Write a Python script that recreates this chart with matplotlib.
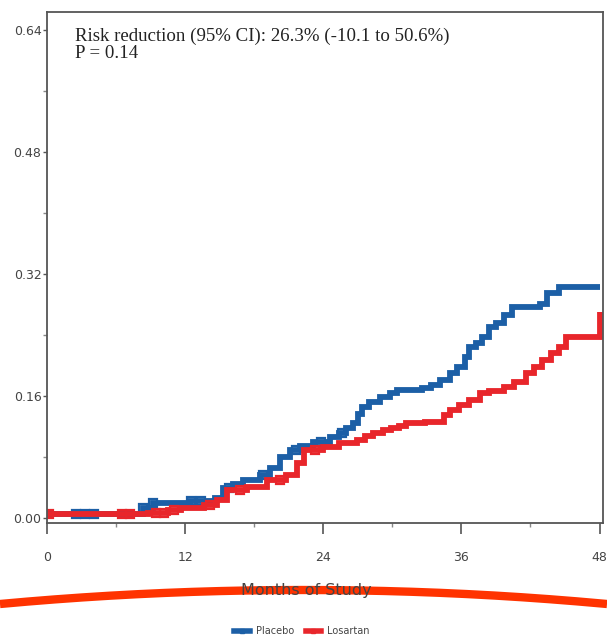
import numpy as np
import matplotlib
matplotlib.use("Agg")
import matplotlib.pyplot as plt
from matplotlib.lines import Line2D

# ---- data ----
placebo_months = [0, 8.3, 9.2, 12.4, 14.6, 15.3, 16.2, 17.0, 18.5, 19.4, 20.2, 21.1, 22.0, 23.1,
                  24.6, 25.4, 26.0, 26.6, 27.0, 27.4, 28.0, 28.9, 29.8, 30.4, 32.6, 33.4, 34.1,
                  35.0, 35.6, 36.3, 36.7, 37.3, 37.8, 38.4, 39.0, 39.7, 40.4, 42.8, 43.4, 44.5, 48]
placebo_risk = [0.005, 0.013, 0.019, 0.022, 0.026, 0.039, 0.045, 0.050, 0.056, 0.066, 0.080, 0.089, 0.094, 0.100,
                0.106, 0.111, 0.118, 0.125, 0.136, 0.146, 0.152, 0.159, 0.164, 0.168, 0.171, 0.175, 0.181,
                0.190, 0.198, 0.211, 0.224, 0.229, 0.237, 0.250, 0.256, 0.266, 0.277, 0.280, 0.295, 0.303, 0.303]
losartan_months = [0, 8.8, 10.5, 11.6, 13.6, 14.8, 15.6, 17.4, 19.1, 20.8, 21.7, 22.3, 24.0, 25.4,
                   26.9, 27.6, 28.3, 29.2, 29.9, 30.6, 31.2, 32.8, 34.5, 35.0, 35.8, 36.7, 37.6,
                   38.4, 39.7, 40.6, 41.6, 42.3, 43.0, 43.8, 44.5, 45.1, 47.9, 48]
losartan_risk = [0.005, 0.007, 0.011, 0.013, 0.017, 0.024, 0.037, 0.041, 0.050, 0.057, 0.072, 0.089, 0.093, 0.098,
                 0.102, 0.108, 0.111, 0.115, 0.118, 0.121, 0.125, 0.126, 0.135, 0.142, 0.148, 0.155, 0.164,
                 0.167, 0.172, 0.178, 0.190, 0.198, 0.207, 0.216, 0.224, 0.237, 0.237, 0.270]
placebo_censor = [2.5, 3.3, 4.1, 8.3, 9.2, 12.5, 13.4, 15.8, 18.8, 21.6, 23.8, 25.6]
losartan_censor = [0.2, 6.5, 7.2, 9.5, 10.2, 11.0, 14.2, 16.8, 20.2, 23.3]

x_ticks = [0, 12, 24, 36, 48]
y_ticks = [0.00, 0.16, 0.32, 0.48, 0.64]
annotation = ["Risk reduction (95% CI): 26.3% (-10.1 to 50.6%)", "P = 0.14"]
xlabel = "Months of Study"
series_names = ["Placebo", "Losartan"]

BLUE = "#1c5fa6"
RED = "#e8262b"

fig = plt.figure(figsize=(6.07, 6.40), dpi=100)
ax = fig.add_axes([47/607, 1-523/640, (603-47)/607, (523-12)/640])

def step_val(months, risk, t):
    idx = np.searchsorted(months, t, side="right") - 1
    return np.asarray(risk)[idx]

for months, risk, cens, col in [(placebo_months, placebo_risk, placebo_censor, BLUE),
                                (losartan_months, losartan_risk, losartan_censor, RED)]:
    ax.plot(months, risk, drawstyle="steps-post", color=col, lw=4.2, solid_capstyle="butt",
            solid_joinstyle="miter")
    ax.plot(cens, step_val(months, risk, cens), ls="none", marker="s", ms=6,
            mfc="none", mec=col, mew=1.6)

ax.set_xlim(0, 48.3)
ax.set_ylim(-0.0066, 0.6636)
ax.set_xticks(x_ticks)
ax.set_xticks([6, 18, 30, 42], minor=True)
ax.set_yticks(y_ticks)
ax.set_yticks([0.08, 0.24, 0.40, 0.56], minor=True)
tickfont = dict(family=["Liberation Sans Narrow", "DejaVu Sans"], size=9, color="#444444")
ax.set_xticklabels([str(v) for v in x_ticks], **tickfont)
ax.set_yticklabels([f"{v:.2f}" for v in y_ticks], **tickfont)
ax.tick_params(axis="x", which="major", length=8, width=1.2, color="#555555", pad=12)
ax.tick_params(axis="x", which="minor", length=3, width=1, color="#888888")
ax.tick_params(axis="y", which="major", length=3, width=1, color="#555555", pad=1)
ax.tick_params(axis="y", which="minor", length=3, width=1, color="#888888")
for s in ax.spines.values():
    s.set_color("#555555")
    s.set_linewidth(1.3)

ax.text(75/556 - 47/556, 1 - (28 - 12)/511, annotation[0] + "\n" + annotation[1],
        transform=ax.transAxes, family="Liberation Serif", fontsize=13.6, color="#222222",
        va="top", ha="left", linespacing=0.95)

fig.text(306/607, 1-590/640, xlabel, ha="center", va="center",
         family=["Liberation Sans Narrow", "DejaVu Sans"], fontsize=11.5, color="#444444")

# legend
h1 = Line2D([], [], color=BLUE, lw=4, marker="s", ms=3)
h2 = Line2D([], [], color=RED, lw=4, marker="s", ms=3)
leg = fig.legend([h1, h2], series_names, loc="center", bbox_to_anchor=(302/607, 1-631/640),
                 ncol=2, frameon=False, handlelength=1.6, handletextpad=0.6, columnspacing=1.2,
                 prop=dict(family=["Liberation Sans Narrow", "DejaVu Sans"], size=7))
for t in leg.get_texts():
    t.set_color("#444444")

# red arc overlay
xs = np.linspace(0, 1, 200)
arc_y_px = 590 + 14 * ((xs - 0.5) / 0.5) ** 2
fig.add_artist(Line2D(xs, 1 - arc_y_px / 640, color="#ff3300", lw=6, transform=fig.transFigure,
                      solid_capstyle="butt"))

fig.savefig("out.png", dpi=100)
